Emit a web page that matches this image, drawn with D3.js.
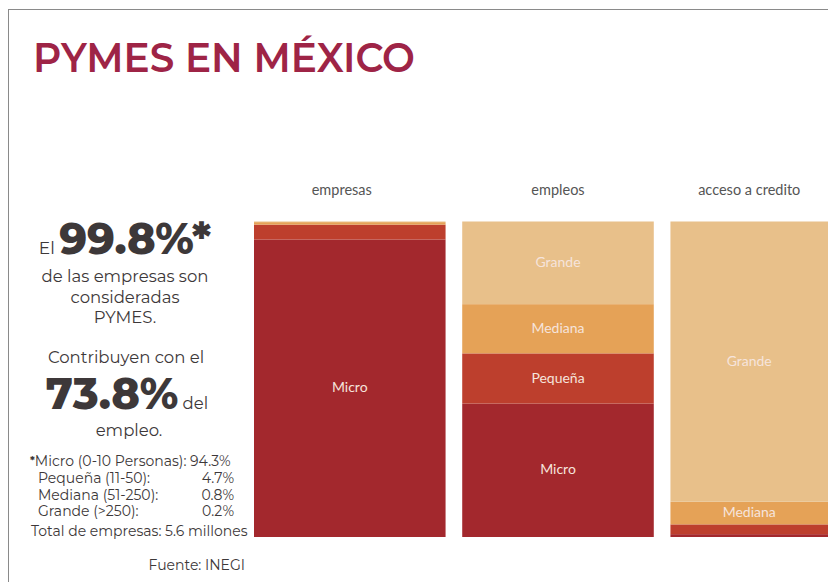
<!DOCTYPE html>
<html>
<head>
<meta charset="utf-8">
<script src="https://cdn.jsdelivr.net/npm/d3@7"></script>
<style>
  body { margin: 0; background: #fff; }
  svg { display: block; }
</style>
</head>
<body>
<div id="chart"></div>
<script>
// data
var columns = ["empresas", "empleos", "acceso a credito"];
var sizes = ["Micro", "Pequeña", "Mediana", "Grande"];
var micro   = [94.3, 42.3, 0.9];
var pequena = [4.7, 15.9, 3.1];
var mediana = [0.8, 15.6, 7.2];
var grande  = [0.2, 26.2, 88.8];

var footLabels = ["Pequeña (11-50):", "Mediana (51-250):", "Grande (>250):"];
var footValues = ["4.7%", "0.8%", "0.2%"];

var W = 828, H = 582;
var sans = "Montserrat, 'Open Sans', sans-serif";
var labelFont = "Lato, 'Noto Sans', sans-serif";
var textColor = "#3d3839";

var colors = d3.scaleOrdinal()
  .domain(sizes)
  .range(["#a3282d", "#bd3f2d", "#e5a257", "#e8c08a"]);

// table for the stack
var table = columns.map(function(c, i) {
  return { col: c, "Micro": micro[i], "Pequeña": pequena[i], "Mediana": mediana[i], "Grande": grande[i] };
});

var svg = d3.select("#chart")
  .append("svg")
    .attr("width", W)
    .attr("height", H);

// frame
svg.append("rect")
  .attr("x", 8.5).attr("y", 9.5)
  .attr("width", 900).attr("height", 700)
  .attr("fill", "none")
  .attr("stroke", "#8a8a8a")
  .attr("stroke-width", 1);

// title
svg.append("text")
  .attr("x", 33)
  .attr("y", 72)
  .attr("textLength", 382)
  .attr("lengthAdjust", "spacingAndGlyphs")
  .style("font-family", sans)
  .style("font-weight", 600)
  .style("font-size", "40px")
  .style("fill", "#9e2446")
  .text("PYMES EN MÉXICO");

var x = d3.scaleBand()
  .domain(columns)
  .range([254, 862])
  .paddingInner(0.08);

var y = d3.scaleLinear()
  .domain([0, 100])
  .range([537, 221.5]);

var stack = d3.stack().keys(sizes)(table);

// visible center of a column (last one runs off the page)
function cx(col) {
  var x0 = x(col);
  return (x0 + Math.min(x0 + x.bandwidth(), W)) / 2;
}

// column headers
svg.selectAll(".header")
  .data(columns)
  .enter()
  .append("text")
    .attr("class", "header")
    .attr("x", function(d, i) { return cx(d) - (i === 0 ? 8 : 0); })
    .attr("y", 195)
    .attr("text-anchor", "middle")
    .style("font-family", labelFont)
    .style("font-size", "14.5px")
    .style("fill", "#555")
    .text(function(d) { return d; });

var layers = svg.selectAll(".layer")
  .data(stack)
  .enter()
  .append("g")
    .attr("class", "layer")
    .attr("fill", function(d) { return colors(d.key); });

layers.selectAll("rect")
  .data(function(d) { return d; })
  .enter()
  .append("rect")
    .attr("x", function(d) { return x(d.data.col); })
    .attr("width", x.bandwidth())
    .attr("y", function(d) { return y(d[1]); })
    .attr("height", function(d) { return y(d[0]) - y(d[1]); });

// segment labels, only where there is room
layers.each(function(layer) {
  d3.select(this).selectAll("text")
    .data(layer.filter(function(d) { return y(d[0]) - y(d[1]) > 18; }))
    .enter()
    .append("text")
      .attr("x", function(d) { return cx(d.data.col); })
      .attr("y", function(d) { return (y(d[0]) + y(d[1])) / 2; })
      .attr("dy", "0.3em")
      .attr("text-anchor", "middle")
      .style("font-family", labelFont)
      .style("font-size", "14px")
      .style("fill", "#f6e4dc")
      .text(layer.key);
});

// left panel
var left = svg.append("g");
var c = 125;

var t1 = left.append("text")
  .attr("x", c).attr("y", 254)
  .attr("text-anchor", "middle")
  .style("font-family", sans)
  .style("fill", textColor);
t1.append("tspan").style("font-size", "17px").text("El ");
t1.append("tspan").style("font-size", "43px").style("font-weight", 800).text("99.8%*");

["de las empresas son", "consideradas", "PYMES."].forEach(function(s, i) {
  left.append("text")
    .attr("x", c).attr("y", 282 + i * 20.5)
    .attr("text-anchor", "middle")
    .style("font-family", sans)
    .style("font-size", "16.5px")
    .style("fill", textColor)
    .text(s);
});

left.append("text")
  .attr("x", c + 1).attr("y", 363)
  .attr("text-anchor", "middle")
  .style("font-family", sans)
  .style("font-size", "16.5px")
  .style("fill", textColor)
  .text("Contribuyen con el");

var t2 = left.append("text")
  .attr("x", c + 2).attr("y", 409)
  .attr("text-anchor", "middle")
  .style("font-family", sans)
  .style("fill", textColor);
t2.append("tspan").style("font-size", "43px").style("font-weight", 800).text("73.8%");
t2.append("tspan").style("font-size", "16.5px").text(" del");

left.append("text")
  .attr("x", c + 4).attr("y", 436)
  .attr("text-anchor", "middle")
  .style("font-family", sans)
  .style("font-size", "16.5px")
  .style("fill", textColor)
  .text("empleo.");

// footnote
var foot = svg.append("g")
  .style("font-family", sans)
  .style("font-size", "14px")
  .style("fill", textColor);

var f0 = foot.append("text").attr("x", 30).attr("y", 466);
f0.append("tspan").style("font-size", "11px").style("font-weight", 700).attr("dy", "-2").text("*");
f0.append("tspan").attr("dy", "2").text("Micro (0-10 Personas): 94.3%");

foot.selectAll(".flab")
  .data(footLabels)
  .enter()
  .append("text")
    .attr("class", "flab")
    .attr("x", 38)
    .attr("y", function(d, i) { return 483 + i * 16.5; })
    .text(function(d) { return d; });

foot.selectAll(".fval")
  .data(footValues)
  .enter()
  .append("text")
    .attr("class", "fval")
    .attr("x", 234)
    .attr("y", function(d, i) { return 483 + i * 16.5; })
    .attr("text-anchor", "end")
    .text(function(d) { return d; });

foot.append("text")
  .attr("x", 31).attr("y", 536)
  .text("Total de empresas: 5.6 millones");

foot.append("text")
  .attr("x", 245).attr("y", 570)
  .attr("text-anchor", "end")
  .text("Fuente: INEGI");
</script>
</body>
</html>
